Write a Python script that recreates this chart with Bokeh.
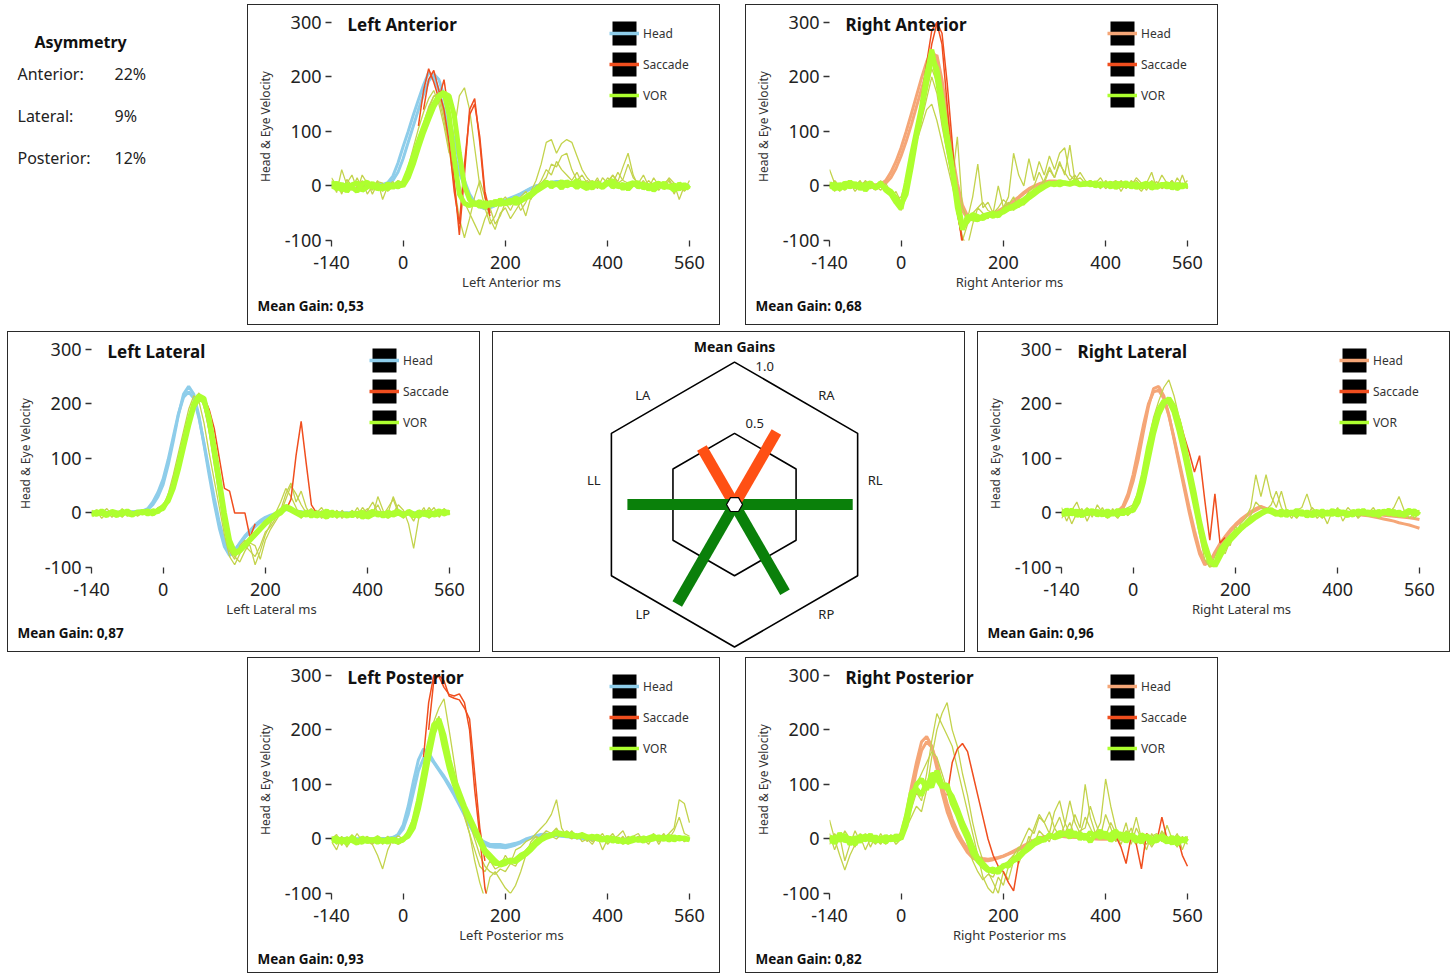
import math
from bokeh.plotting import figure
from bokeh.models import Range1d, FixedTicker, Label, Legend, LegendItem, Spacer, Title
from bokeh.layouts import row, column
from bokeh.embed import file_html
from bokeh.resources import INLINE
from bokeh.core.properties import value

# ---------------------------------------------------------------- data
T = [-140, -130, -120, -110, -100, -90, -80, -70, -60, -50,
     -40, -30, -20, -10, 0, 10, 20, 30, 40, 50,
     60, 70, 80, 90, 100, 110, 120, 130, 140, 150,
     160, 170, 180, 190, 200, 210, 220, 230, 240, 250,
     260, 270, 280, 290, 300, 310, 320, 330, 340, 350,
     360, 370, 380, 390, 400, 410, 420, 430, 440, 450,
     460, 470, 480, 490, 500, 510, 520, 530, 540, 550,
     560]

X_TICKS = [-140, 0, 200, 400, 560]
Y_TICKS = [-100, 0, 100, 200, 300]

# ---- Left Anterior
la_head1 = [2, 3, 2, 1, 3, 2, 2, 3, 2, 2,
            3, 6, 18, 42, 72, 100, 130, 158, 185, 208,
            200, 175, 140, 100, 60, 25, 0, -20, -32, -38,
            -42, -40, -36, -32, -28, -24, -20, -16, -10, -5,
            0, 3, 5, 7, 8, 8, 7, 6, 5, 5,
            4, 4, 3, 3, 3, 2, 2, 2, 2, 2,
            1, 1, 1, 1, 1, 0, 0, 0, 0, 0,
            0]
la_head2 = [1, 2, 3, 2, 2, 3, 1, 2, 3, 2,
            2, 4, 10, 25, 50, 80, 110, 140, 168, 192,
            205, 195, 165, 125, 85, 45, 10, -15, -30, -38,
            -40, -38, -35, -30, -26, -22, -18, -14, -9, -4,
            0, 2, 4, 6, 7, 7, 6, 5, 4, 4,
            3, 3, 3, 2, 2, 2, 1, 1, 1, 1,
            1, 0, 0, 0, 0, 0, 0, -1, -1, 0,
            0]
la_vor1 = [8, -6, 4, -10, 2, 6, -8, -2, 5, -6,
           0, -5, 2, -2, 5, 28, 55, 82, 108, 132,
           150, 166, 172, 130, 50, -15, -32, -36, -30, -38,
           -30, -36, -28, -34, -30, -26, -32, -28, -22, -18,
           -10, -4, 2, 6, 2, 8, 0, 5, -3, 6,
           2, -4, 5, 0, 8, -2, 4, -5, 3, 6,
           -2, 4, -6, 2, 5, -3, 0, -8, 4, -4,
           0]
la_vor2 = [-4, 6, -8, 3, -2, -10, 4, 7, -3, 2,
           -6, 4, -3, 6, 0, 15, 40, 70, 98, 122,
           145, 162, 170, 165, 130, 60, 0, -25, -35, -28,
           -40, -30, -35, -25, -33, -30, -22, -27, -20, -14,
           -6, 0, 8, -2, 5, -4, 8, 2, 10, 0,
           -5, 6, 2, -3, 5, 10, -2, 3, -6, 4,
           6, -4, 2, -8, 0, 5, -3, 2, -6, 3,
           -5]
la_thin1 = [10, -12, 30, 2, -8, 15, -5, 8, -15, 5,
            -10, 6, -4, 2, 10, 35, 70, 105, 135, 160,
            175, 150, 110, 60, 100, 165, 180, 140, 70, 0,
            -40, -70, -55, -30, -20, -35, -25, -45, -30, -10,
            10, 40, 80, 85, 60, 78, 85, 80, 55, 30,
            15, 5, 10, 0, 15, 5, 25, 10, 5, 0,
            8, -5, 10, 0, -8, 5, 12, -4, 6, -10,
            0]
la_thin2 = [-5, 8, -15, 12, 0, -10, 20, 5, -8, 10,
            -25, 0, 8, -5, 0, 20, 50, 80, 110, 140,
            165, 170, 130, 70, 0, -60, -95, -60, -20, 10,
            -20, -60, -80, -50, -40, -60, -45, -30, -55, -20,
            0, 5, 15, 40, 35, 55, 60, 30, 10, 20,
            5, 10, -5, 15, 5, 20, 8, 35, 60, 20,
            0, 10, -5, 15, 0, -5, 10, -15, 5, -8,
            10]
la_thin3 = [15, 0, -10, 5, 20, -5, 10, -15, 0, 8,
            5, -10, 0, 10, 5, 30, 60, 90, 115, 145,
            165, 160, 120, 70, 30, 0, -30, -50, -70, -90,
            -60, -40, -70, -55, -30, -45, -25, -20, -10, -25,
            -5, 10, 30, 20, 45, 30, 20, 10, 25, 5,
            10, 0, 15, -5, 8, 20, 5, 12, 40, 15,
            5, 20, 0, -10, 8, 0, 15, 5, -25, 0,
            -5]
la_sac_t1 = [30, 40, 50, 60, 70, 80, 90, 100, 110, 120, 130, 140, 150, 160, 170]
la_sac_v1 = [110, 175, 215, 190, 160, 195, 130, 10, -90, 20, 140, 160, 80, -20, -55]
la_sac_t2 = [40, 50, 60, 70, 80, 90, 100, 110, 120, 130, 140, 150, 160, 170]
la_sac_v2 = [140, 195, 212, 175, 140, 80, -10, -70, 40, 130, 150, 90, -10, -50]

# ---- Right Anterior
ra_head1 = [0, 1, 0, 2, 1, 0, 1, 2, 0, 1,
            3, 10, 25, 45, 70, 100, 132, 165, 198, 228,
            248, 235, 180, 110, 45, -10, -45, -60, -62, -60,
            -58, -55, -52, -48, -42, -36, -30, -22, -14, -7,
            -2, 3, 6, 8, 8, 7, 6, 5, 4, 3,
            3, 2, 2, 2, 1, 1, 1, 0, 0, 0,
            0, 0, -1, 0, -1, 0, 0, -1, 0, 0,
            0]
ra_head2 = [1, 0, 1, 0, 2, 1, 0, 1, 1, 2,
            1, 5, 15, 32, 55, 82, 112, 145, 178, 208,
            232, 240, 195, 130, 60, 5, -35, -55, -60, -58,
            -56, -54, -50, -46, -40, -34, -27, -20, -12, -5,
            0, 4, 7, 9, 9, 8, 6, 5, 4, 3,
            2, 2, 2, 1, 1, 1, 0, 0, 0, 0,
            0, -1, 0, 0, 0, -1, 0, 0, 0, 0,
            0]
ra_vor1 = [5, -6, 3, -4, 8, -2, 4, -8, 2, -3,
           6, -8, -15, -30, -42, 5, 55, 100, 145, 205,
           250, 200, 140, 80, 30, -40, -80, -55, -60, -62,
           -55, -52, -56, -50, -48, -42, -40, -35, -30, -22,
           -15, -8, -2, 3, 5, 2, 6, 4, 8, 3,
           5, 2, 6, 0, 4, -2, 5, 3, 0, 4,
           -3, 2, 5, -4, 0, 3, -2, 4, -5, 2,
           0]
ra_vor2 = [-3, 4, -6, 6, -2, 5, -5, 2, 6, -4,
           2, -4, -10, -22, -35, -15, 35, 90, 140, 190,
           235, 215, 160, 95, 35, -25, -75, -65, -52, -56,
           -60, -54, -50, -55, -45, -40, -36, -30, -25, -18,
           -10, -4, 0, 5, 2, 8, 5, 3, 6, 2,
           3, 6, 0, 4, 2, 5, -3, 2, 6, -2,
           4, -2, 0, 5, -3, 2, 4, -4, 3, -2,
           2]
ra_thin1 = [30, 5, -10, 8, -5, 0, 10, -8, 4, -2,
            5, 0, -20, -10, -30, 0, 40, 90, 130, 175,
            215, 190, 130, 70, 10, 90, -40, -60, -20, 40,
            -40, -30, -50, 0, -40, -20, 60, 20, 0, 50,
            10, 45, 20, 55, 30, 60, 70, 20, 10, 15,
            5, 10, 0, 8, -5, 5, 10, -10, 5, 0,
            15, 5, -8, 10, 0, 20, 5, -5, 15, 0,
            10]
ra_thin2 = [-5, 10, 0, -8, 5, -10, 2, 8, -5, 0,
            -8, 5, -12, -25, -20, 10, 45, 80, 110, 140,
            150, 120, 80, 40, 0, -40, -95, -110, -70, -40,
            -50, -60, -45, -55, -40, -30, -45, -25, -35, -20,
            -10, 0, 10, 35, 15, 40, 25, 10, 20, 5,
            0, 10, 5, -5, 10, 0, 5, 8, -5, 10,
            0, -10, 5, 0, 8, -5, 0, 10, -8, 5,
            -5]
ra_thin3 = [8, -10, 5, -3, 10, 5, -6, 10, 0, -8,
            10, -5, -15, -20, -45, -10, 30, 80, 120, 160,
            200, 170, 110, 60, 10, -50, -100, -70, -50, -40,
            -30, -45, -50, -40, -25, -35, -20, -40, -25, -10,
            0, 25, 5, 30, 15, 45, 20, 75, 10, 25,
            10, 0, 5, 15, 0, 8, -5, 10, 0, 5,
            10, 0, 5, 25, -5, 5, 0, 10, -5, 20,
            -5]
ra_sac_t1 = [40, 50, 60, 70, 80, 90, 100, 110, 120]
ra_sac_v1 = [160, 225, 285, 300, 280, 190, 80, -40, -110]
ra_sac_t2 = [40, 50, 60, 70, 80, 90, 100, 110, 120, 130]
ra_sac_v2 = [140, 200, 260, 298, 260, 150, 40, -50, -100, -120]

# ---- Left Lateral
ll_head1 = [0, 1, 0, 1, 2, 1, 0, 2, 1, 2,
            3, 6, 15, 30, 52, 88, 132, 180, 218, 232,
            218, 178, 125, 70, 18, -28, -62, -78, -70, -55,
            -42, -32, -22, -14, -8, -4, -1, 3, 7, 5,
            3, 1, 0, 0, -1, 0, 0, -1, 0, 0,
            0, 0, 0, 0, 0, 0, 0, 0, 0, 0,
            0, 0, 0, 0, 0, 0, 0, 0, 0, 0,
            0]
ll_head2 = [1, 0, 2, 1, 0, 1, 2, 1, 2, 3,
            4, 8, 20, 38, 62, 98, 140, 182, 212, 222,
            210, 175, 128, 78, 28, -18, -52, -70, -68, -56,
            -45, -35, -25, -17, -11, -6, -2, 2, 6, 6,
            4, 2, 1, 0, 0, 0, -1, 0, 0, 0,
            0, 0, 0, 0, 0, 0, 0, 0, 0, 0,
            0, 0, 0, 0, 0, 0, 0, 0, 0, 0,
            0]
ll_vor1 = [2, -3, 4, -2, 0, -5, 3, -1, -4, 2,
           0, 4, -2, 5, 8, 25, 50, 88, 128, 168,
           200, 215, 210, 170, 110, 50, -10, -60, -75, -70,
           -60, -50, -40, -30, -20, -12, -5, 0, 10, 5,
           0, -5, 2, -6, 0, -3, -8, 2, -5, -2,
           -6, 0, -4, 2, -8, -3, 0, -6, 2, -4,
           0, -5, 3, -2, -6, 0, 2, -4, -1, 3,
           0]
ll_vor2 = [-4, 2, -1, -5, 3, 0, -3, 4, -2, 0,
           3, -2, 4, 2, 12, 22, 45, 80, 120, 160,
           195, 210, 205, 175, 120, 60, 0, -50, -72, -68,
           -58, -48, -38, -28, -18, -10, -2, 4, 12, 8,
           2, 0, -4, 3, -6, -2, 4, -5, -1, -3,
           -2, -5, 0, -8, -2, 3, -4, -1, -6, 0,
           3, -3, 0, -6, 2, -2, -5, 0, 4, -2,
           2]
ll_thin1 = [5, -5, 0, 8, -3, 2, -8, 4, 0, -4,
            6, -2, 0, 10, 15, 30, 60, 100, 140, 175,
            205, 220, 200, 150, 90, 30, -30, -70, -85, -60,
            -50, -60, -95, -70, -40, -20, 0, 20, 45, 30,
            10, -10, 5, -5, 0, 10, -5, 5, -8, 0,
            -5, 5, -10, 0, 8, -5, 30, 5, -10, 0,
            15, 5, -20, -65, -10, 5, 0, 10, -8, 5,
            0]
ll_thin2 = [-6, 4, -10, 0, 5, -5, 8, -2, 3, -6,
            0, 5, -5, 8, 12, 35, 70, 110, 150, 190,
            215, 205, 165, 110, 60, 10, -40, -80, -95, -75,
            -60, -70, -80, -60, -35, -25, -10, 5, 35, 55,
            20, 40, 10, -5, 5, -10, 0, -5, 5, -10,
            0, -5, 10, -8, 5, 20, 0, -5, 10, 25,
            0, -10, 5, 0, -5, 10, -10, 0, 5, -5,
            5]
ll_thin3 = [0, 6, -4, 3, -8, 2, 5, -6, 0, 4,
            -3, 0, 6, 2, 10, 28, 58, 95, 135, 170,
            200, 218, 195, 150, 95, 40, -20, -65, -80, -90,
            -70, -55, -60, -85, -50, -30, -15, 0, 25, 50,
            35, 15, 0, 8, -6, 4, -4, 2, -10, 5,
            -8, 3, -5, 10, -2, 0, 15, -5, 0, 30,
            5, -8, 0, -15, 5, -6, 10, -2, 0, 8,
            -4]
ll_sac_t1 = [80, 90, 100, 110, 120, 130, 140, 150, 160, 170, 180]
ll_sac_v1 = [212, 190, 155, 100, 45, 40, 0, 0, 0, -45, -20]
ll_sac_t2 = [240, 250, 260, 270, 280, 290, 300]
ll_sac_v2 = [5, 25, 105, 168, 90, 15, 0]

# ---- Right Lateral
rl_head1 = [0, 1, 0, 2, 1, 0, 1, 0, 2, 1,
            0, 2, 8, 28, 58, 98, 148, 195, 228, 232,
            215, 180, 135, 90, 45, 0, -40, -75, -95, -90,
            -72, -56, -43, -31, -21, -12, -5, 2, 8, 12,
            8, 4, 2, 1, 0, 0, 0, -1, 0, 0,
            0, 0, -1, 0, 0, -1, -2, -2, -3, -4,
            -5, -7, -9, -11, -13, -15, -18, -20, -22, -25,
            -28]
rl_head2 = [1, 0, 2, 1, 0, 1, 2, 1, 0, 2,
            1, 3, 12, 35, 70, 115, 160, 200, 222, 225,
            210, 178, 138, 95, 52, 8, -32, -68, -90, -88,
            -75, -60, -46, -34, -24, -15, -7, 0, 5, 10,
            8, 5, 3, 1, 0, 0, 0, 0, 0, 0,
            0, 0, 0, 0, 0, 0, 0, 0, 0, -1,
            -1, -2, -3, -4, -5, -6, -7, -8, -9, -10,
            -12]
rl_vor1 = [4, -3, 6, -5, 2, -2, 5, -4, 3, -6,
           2, -4, 5, 0, 8, 30, 70, 120, 160, 190,
           205, 205, 185, 150, 110, 65, 20, -25, -65, -90,
           -95, -70, -55, -45, -35, -28, -20, -12, -5, 0,
           5, 2, -3, 4, -5, 2, -4, 3, -6, 0,
           3, -5, 2, -3, 4, 0, -5, 3, -2, 5,
           -3, 2, -5, 4, -2, 3, -4, 0, 5, -3,
           2]
rl_vor2 = [-5, 6, -2, 4, -6, 5, -1, 3, -4, 4,
           -3, 5, -2, 6, 4, 20, 55, 100, 145, 180,
           200, 210, 195, 165, 125, 80, 35, -15, -55, -85,
           -98, -80, -62, -50, -40, -30, -22, -15, -8, -2,
           3, 6, 0, -4, 3, -2, 5, -3, 2, -5,
           -2, 4, -3, 5, -4, 2, 0, -4, 4, -1,
           2, -4, 3, -1, 5, -3, 2, -5, 1, 4,
           -3]
rl_thin1 = [10, -15, 5, 20, -5, 10, -8, 15, 0, -10,
            8, -5, 5, 10, 15, 40, 80, 130, 175, 205,
            230, 244, 215, 175, 130, 80, 30, -20, -70, -100,
            -80, -60, -75, -50, -40, -20, -10, 10, 70, 30,
            70, 30, 10, 40, 5, -10, 5, 10, 35, 5,
            -10, 0, -20, 5, 0, -5, 10, 0, -8, 5,
            0, 10, -5, 5, 0, 10, 30, 5, -10, 0,
            5]
rl_thin2 = [-10, 5, -20, 0, 8, -15, 5, -5, 10, -8,
            0, -10, 5, -5, 10, 25, 60, 105, 150, 185,
            205, 200, 180, 150, 110, 60, 10, -40, -85, -100,
            -95, -70, -50, -60, -25, -35, -15, -5, 20, 10,
            5, 15, 40, 10, -5, 0, -10, 5, -5, 10,
            0, -10, 5, -5, 10, -15, 0, 5, -10, 0,
            -5, 5, -10, 0, 8, -5, 0, -8, 5, -10,
            0]
rl_sac_t1 = [90, 100, 110, 120, 130, 140, 150, 160, 170, 180]
rl_sac_v1 = [175, 140, 110, 75, 105, 25, -50, 35, -55, -45]

# ---- Left Posterior
lp_head1 = [0, 1, 0, 0, 1, 0, 1, 0, 0, 1,
            0, 1, 2, 8, 25, 60, 105, 145, 165, 158,
            142, 128, 115, 100, 85, 68, 50, 30, 12, 0,
            -6, -10, -10, -10, -12, -10, -8, -5, 0, 3,
            6, 8, 9, 8, 7, 6, 5, 4, 3, 2,
            1, 0, 0, -1, -2, -2, -2, -1, 0, 0,
            1, 2, 2, 2, 1, 1, 0, 0, 0, 0,
            0]
lp_head2 = [1, 0, 1, 1, 0, 0, 1, 1, 0, 0,
            1, 1, 3, 6, 18, 45, 85, 125, 148, 152,
            140, 126, 112, 96, 80, 62, 44, 25, 8, -4,
            -10, -14, -15, -15, -16, -14, -11, -7, -2, 2,
            5, 7, 8, 7, 6, 5, 4, 3, 2, 1,
            0, -1, -1, -2, -3, -3, -2, -1, 0, 1,
            1, 2, 2, 1, 1, 0, 0, 0, -1, 0,
            0]
lp_vor1 = [-4, 2, -6, 0, -3, -8, 2, -5, -1, -6,
           -2, -6, 0, -4, -2, 10, 30, 70, 120, 170,
           210, 215, 170, 130, 100, 75, 55, 35, 15, -5,
           -25, -35, -45, -45, -40, -42, -38, -30, -25, -15,
           -5, 0, 5, 8, 10, 8, 10, 6, 5, 8,
           4, 2, 5, 0, -3, 2, -5, -2, -6, -3,
           0, -4, 2, 5, 0, 3, -2, 4, 0, 2,
           -2]
lp_vor2 = [2, -5, 0, -8, 3, -4, -6, 0, -3, 2,
           -5, 0, -3, -6, 0, 5, 20, 55, 100, 150,
           195, 220, 190, 145, 110, 85, 60, 40, 20, 0,
           -20, -30, -40, -48, -45, -38, -42, -35, -28, -20,
           -10, -2, 3, 6, 12, 10, 6, 9, 4, 6,
           2, 5, 0, -2, 3, -4, 0, -6, -2, 2,
           -3, 2, -2, 0, 4, -1, 5, -2, 3, 0,
           0]
lp_thin1 = [-5, -20, 5, -15, 0, -10, 5, -5, -10, -30,
            -55, -20, 0, -10, -5, 15, 40, 80, 130, 180,
            215, 240, 257, 200, 140, 80, 40, 10, -20, -50,
            -60, -40, -55, -50, -30, -45, -20, -15, -5, 0,
            10, 20, 30, 45, 72, 20, 5, 0, 10, -5,
            0, -10, 5, -20, 0, 10, -5, 5, -10, 0,
            5, 0, -10, 5, 0, 10, -5, 0, 5, -5,
            0]
lp_thin2 = [5, -10, 0, -5, 8, -8, 0, 5, -10, 0,
            -5, 5, -8, 0, -5, 10, 35, 75, 125, 175,
            205, 225, 190, 150, 110, 75, 45, 10, -40, -80,
            -110, -70, -60, -75, -90, -100, -85, -60, -30, -5,
            5, 0, 10, 5, 0, 10, 5, 15, 0, 10,
            5, -5, 0, 10, -5, 5, 0, -10, 5, 0,
            -5, 5, 0, 10, -5, 0, 10, 20, 72, 65,
            30]
lp_thin3 = [0, 8, -12, 4, -6, 10, -4, 2, -8, 6,
            -10, 2, -4, 6, 0, 8, 30, 65, 110, 160,
            200, 210, 175, 140, 105, 80, 55, 30, 0, -30,
            -50, -60, -65, -55, -60, -45, -50, -30, -20, -10,
            0, 5, 15, 10, 20, 5, 15, 8, 0, 12,
            -5, 8, 0, 5, -10, 0, 6, 15, -5, 5,
            10, -5, 0, 8, -10, 5, 0, 15, 40, 10,
            5]
lp_sac_t1 = [40, 50, 60, 70, 80, 90, 100, 110, 120, 130, 140, 150, 160, 170]
lp_sac_v1 = [150, 250, 300, 298, 278, 265, 262, 266, 250, 200, 90, 5, -90, -130]
lp_sac_t2 = [50, 60, 70, 80, 90, 100, 110, 120, 130, 140, 150, 160]
lp_sac_v2 = [200, 290, 300, 290, 262, 258, 255, 240, 220, 120, 20, -40]

# ---- Right Posterior
rp_head1 = [0, 1, 0, 1, 0, 2, 1, 0, 1, 0,
            1, 0, 1, 2, 10, 45, 95, 140, 178, 188,
            170, 130, 85, 50, 25, 5, -10, -25, -35, -40,
            -40, -40, -38, -35, -32, -28, -24, -20, -15, -10,
            -5, 0, 3, 5, 6, 6, 5, 4, 3, 2,
            2, 1, 1, 0, 0, 0, 0, 0, 0, 0,
            0, 0, 0, 0, 0, 0, 0, 0, 0, 0,
            0]
rp_head2 = [1, 0, 1, 0, 1, 1, 0, 1, 0, 1,
            0, 1, 0, 1, 5, 32, 78, 125, 162, 178,
            168, 140, 100, 65, 36, 14, -4, -18, -28, -34,
            -36, -37, -36, -34, -31, -27, -22, -17, -12, -7,
            -2, 2, 4, 6, 6, 5, 4, 3, 3, 2,
            1, 1, 0, 0, 0, 0, 0, 0, 0, 0,
            0, 0, 0, 0, 0, 0, 0, 0, 0, 0,
            0]
rp_vor1 = [5, -8, 10, -4, 2, -10, 6, -2, 8, -5,
           3, -6, 4, -3, 5, 40, 85, 92, 80, 105,
           95, 125, 100, 92, 78, 55, 30, 10, -15, -35,
           -45, -55, -60, -55, -50, -45, -40, -35, -25, -18,
           -10, -5, 0, 5, 5, 12, 8, 15, 5, 10,
           0, 12, 5, 15, 2, 8, 15, 0, 10, 5,
           -5, 8, 2, -8, 5, 0, -6, 4, -10, 0,
           -5]
rp_vor2 = [-6, 4, -3, 8, -10, 3, -5, 6, -2, 4,
           -4, 5, -2, 6, 0, 25, 70, 100, 110, 90,
           120, 110, 95, 100, 65, 45, 20, 0, -25, -40,
           -50, -58, -55, -62, -48, -50, -38, -30, -22, -12,
           -6, 2, -3, 8, 2, 5, 10, 3, 12, 0,
           8, -5, 10, 2, 12, -3, 5, 10, -5, 8,
           2, -6, 6, 0, -4, 6, 0, -8, 3, -4,
           2]
rp_thin1 = [35, 0, -30, -57, -30, -10, 5, -20, 0, -10,
            10, -5, 5, -10, 0, 20, 40, 60, 50, 90,
            150, 200, 230, 250, 200, 170, 120, 80, 30, -10,
            -40, -60, -80, -100, -60, -75, -40, -20, 0, 20,
            10, 40, 30, 10, 50, 70, 30, 10, 45, 20,
            100, 40, 10, 30, 110, 60, 20, 0, 30, -10,
            20, 0, -20, 10, -5, 15, 0, -10, 5, -5,
            0]
rp_thin2 = [-10, 10, -5, 15, 0, -15, 10, -5, 5, 0,
            -10, 5, -5, 0, 5, 30, 55, 85, 70, 120,
            180, 230, 210, 190, 170, 130, 90, 50, 10, -30,
            -70, -90, -100, -70, -85, -50, -30, -45, -20, -5,
            20, 45, 30, 50, 20, 5, 25, 70, 30, 10,
            40, 20, 0, 15, 5, 30, 10, -10, 15, 5,
            40, 0, -10, 5, 10, -5, 25, 0, -15, 5,
            -10]
rp_thin3 = [10, -20, 5, -40, -10, 15, -5, 10, -15, 5,
            0, -10, 8, -5, 10, 35, 70, 100, 120, 140,
            160, 150, 120, 90, 60, 40, 20, -10, -40, -60,
            -75, -65, -70, -50, -55, -40, -30, -15, -25, 5,
            -10, 15, 5, -5, 20, 40, 10, 30, 5, 15,
            20, 60, 30, 5, 45, 20, -5, 10, 0, 20,
            -10, 10, 5, -15, 0, 10, 5, -5, 10, -20,
            5]
rp_sac_t1 = [90, 100, 110, 120, 130, 140, 150, 160, 170, 180, 190, 200, 210, 220, 230]
rp_sac_v1 = [80, 140, 165, 175, 160, 120, 80, 40, 0, -30, -50, -60, -80, -95, -40]
rp_sac_t2 = [420, 430, 440, 450, 460, 470, 480, 490, 500, 510, 520, 530, 540, 550, 560]
rp_sac_v2 = [5, -15, -45, 5, -10, -55, 10, 0, -5, 40, 0, -10, 5, -30, -50]

# ---- Mean gains (hexagon diagram)
GAIN_LABELS = ["RL", "RA", "LA", "LL", "LP", "RP"]
GAIN_VALUES = [0.96, 0.68, 0.53, 0.87, 0.93, 0.82]
GRID_LEVELS = [1.0, 0.5]
GRID_LEVEL_TEXT = ["1.0", "0.5"]

# ---- Asymmetry
ASYM_NAMES = ["Anterior:", "Lateral:", "Posterior:"]
ASYM_VALUES = ["22%", "9%", "12%"]

# ---------------------------------------------------------------- style
FONT = "Noto Sans"
HEAD_L = "#8ECDEA"
HEAD_R = "#F5A677"
SACC = "#F04E1E"
VOR_MAIN = "#ADFF2F"
VOR_THIN = "#C3D34C"
BAR_LOW = "#FF5014"
BAR_OK = "#0A800A"
TXT = "#222222"
BOX_STYLE = {"border": "1px solid #2a2a2a"}
NAN = float("nan")

PW, PH, PH_LAST = 473, 321, 316          # outer box sizes (border included)
F_LEFT, F_W, F_TOP, F_H = 83, 358, 7, 226
X_END = 564
Y_TOP = 318


def make_panel(spec, height):
    cw, ch = PW - 2, height - 2
    p = figure(width=PW, height=height,
               x_range=Range1d(X_TICKS[0], X_END), y_range=Range1d(Y_TICKS[0], Y_TOP),
               output_backend="svg", toolbar_location=None,
               min_border_left=F_LEFT, min_border_right=cw - F_LEFT - F_W, min_border_top=F_TOP,
               min_border_bottom=ch - F_TOP - F_H,
               outline_line_color=None, background_fill_color="white",
               border_fill_color="white", styles=BOX_STYLE)
    p.grid.visible = False

    for h in spec["head"]:
        p.line(T, h, line_color=spec["head_color"], line_width=3)
    for v in spec["thin"]:
        p.line(T, v, line_color=VOR_THIN, line_width=1.3)
    for ts, vs in spec["sac"]:
        p.line(ts, vs, line_color=SACC, line_width=1.5)
    for v in spec["vor"]:
        p.line(T, v, line_color=VOR_MAIN, line_width=5)

    for ax, ticks in ((p.xaxis[0], X_TICKS), (p.yaxis[0], Y_TICKS)):
        ax.ticker = FixedTicker(ticks=ticks)
        ax.major_label_overrides = {t: str(t) for t in ticks}
        ax.axis_line_color = None
        ax.major_tick_in = 0
        ax.major_tick_out = 6
        ax.minor_tick_out = 0
        ax.minor_tick_in = 0
        ax.major_tick_line_color = "#333333"
        ax.major_tick_line_width = 1.3
        ax.major_label_text_font = FONT
        ax.major_label_text_font_size = "18px"
        ax.major_label_text_color = TXT
        ax.axis_label_text_font = FONT
        ax.axis_label_text_font_style = "normal"
        ax.axis_label_text_color = "#333333"
    p.xaxis.major_label_standoff = 9
    p.yaxis.major_label_standoff = 4
    p.xaxis.axis_label = spec["xlabel"]
    p.xaxis.axis_label_text_font_size = "13px"
    p.xaxis.axis_label_standoff = 1
    p.yaxis.axis_label = "Head & Eye Velocity"
    p.yaxis.axis_label_text_font_size = "12px"
    p.yaxis.axis_label_standoff = 8

    title_y = (Y_TICKS[-1] - Y_TICKS[0]) * F_H / (Y_TOP - Y_TICKS[0])
    p.add_layout(Label(x=16, y=title_y, x_units="screen", y_units="screen", text=spec["title"],
                       text_font=FONT, text_font_style="bold", text_font_size="17px",
                       text_color="#111111", text_baseline="middle"))
    p.add_layout(Title(text="Mean Gain: " + spec["gain"], align="left", offset=9 - F_LEFT,
                       text_font=FONT, text_font_style="bold", text_font_size="13.5px",
                       text_color="#111111", standoff=3), "below")

    items = []
    for name, col in (("Head", spec["head_color"]), ("Saccade", SACC), ("VOR", VOR_MAIN)):
        bg = p.quad(left=[NAN], right=[NAN], top=[NAN], bottom=[NAN],
                    fill_color="black", line_color=None)
        ln = p.line([NAN], [NAN], line_color=col, line_width=3.5)
        items.append(LegendItem(label=name, renderers=[bg, ln]))
    leg = Legend(items=items, location=(278, 130), glyph_width=30, glyph_height=30,
                 spacing=1, padding=0, margin=0, border_line_color=None,
                 background_fill_alpha=0, label_text_font=FONT, label_text_font_size="12px",
                 label_text_color="#333333", label_standoff=4)
    p.add_layout(leg)
    return column(p)


def make_radar():
    s = 122.6
    cw, ch = PW - 2, PH - 2
    cx, cy = 240, 171
    r = figure(width=PW, height=PH,
               x_range=Range1d(-cx / s, (cw - cx) / s), y_range=Range1d(-(ch - cy) / s, cy / s),
               output_backend="svg", toolbar_location=None, min_border=0,
               x_axis_location=None, y_axis_location=None,
               outline_line_color=None, styles=BOX_STYLE)
    r.grid.visible = False
    c30 = math.cos(math.radians(30))
    for lev in GRID_LEVELS:
        R = lev / c30
        xs = [R * math.cos(math.radians(90 + 60 * k)) for k in range(6)]
        ys = [R * math.sin(math.radians(90 + 60 * k)) for k in range(6)]
        r.patch(xs, ys, fill_alpha=0, line_color="black", line_width=1.6)
    angles = [math.radians(60 * i) for i in range(len(GAIN_LABELS))]
    x1 = [g * math.cos(a) for g, a in zip(GAIN_VALUES, angles)]
    y1 = [g * math.sin(a) for g, a in zip(GAIN_VALUES, angles)]
    cols = [BAR_LOW if g < 0.7 else BAR_OK for g in GAIN_VALUES]
    r.segment(x0=[0] * len(x1), y0=[0] * len(y1), x1=x1, y1=y1, line_color=cols,
              line_width=11, line_cap="butt")
    r.scatter([0], [0], marker="hex", size=16, fill_color="white", line_color="black",
              line_width=1.2)
    shift = [10, -10, 10, -10, -10, 10]
    lr = 1.16
    lx = [lr * math.cos(a + math.radians(d)) for a, d in zip(angles, shift)]
    ly = [lr * math.sin(a + math.radians(d)) for a, d in zip(angles, shift)]
    r.text(x=lx, y=ly, text=GAIN_LABELS, text_font=value(FONT), text_font_size="13px",
           text_color=TXT, text_align="center", text_baseline="middle")
    offs = [(21, 4), (11, -10)]
    for lev, txt, (dx, dy) in zip(GRID_LEVELS, GRID_LEVEL_TEXT, offs):
        r.text(x=[0], y=[lev / c30], text=[txt], x_offset=dx, y_offset=dy,
               text_font=value(FONT), text_font_size="13px", text_color=TXT,
               text_align="left", text_baseline="middle")
    r.add_layout(Label(x=241, y=ch - 12, x_units="screen", y_units="screen",
                       text="Mean Gains", text_font=FONT, text_font_style="bold",
                       text_font_size="14px", text_color="#111111",
                       text_align="center", text_baseline="middle"))
    return column(r)


def make_asym():
    w, H = 227, PH
    a = figure(width=w, height=H, x_range=Range1d(0, 1), y_range=Range1d(0, 1),
               output_backend="svg", toolbar_location=None, min_border=0,
               x_axis_location=None, y_axis_location=None, outline_line_color=None)
    a.grid.visible = False
    a.add_layout(Label(x=27, y=H - 37, x_units="screen", y_units="screen", text="Asymmetry",
                       text_font=FONT, text_font_style="bold", text_font_size="16px",
                       text_color="#111111", text_baseline="middle"))
    for i, (nm, vv) in enumerate(zip(ASYM_NAMES, ASYM_VALUES)):
        yy = H - 69 - 42 * i
        a.add_layout(Label(x=10, y=yy, x_units="screen", y_units="screen", text=nm,
                           text_font=FONT, text_font_size="16px", text_color=TXT,
                           text_baseline="middle"))
        a.add_layout(Label(x=107, y=yy, x_units="screen", y_units="screen", text=vv,
                           text_font=FONT, text_font_size="16px", text_color=TXT,
                           text_baseline="middle"))
    return column(a)


def sp(w, h):
    return Spacer(width=w, height=h)


PANELS = {
    "LA": dict(title="Left Anterior", xlabel="Left Anterior ms", gain="0,53", head_color=HEAD_L,
               head=[la_head1, la_head2], vor=[la_vor1, la_vor2], thin=[la_thin1, la_thin2, la_thin3],
               sac=[(la_sac_t1, la_sac_v1), (la_sac_t2, la_sac_v2)]),
    "RA": dict(title="Right Anterior", xlabel="Right Anterior ms", gain="0,68", head_color=HEAD_R,
               head=[ra_head1, ra_head2], vor=[ra_vor1, ra_vor2], thin=[ra_thin1, ra_thin2, ra_thin3],
               sac=[(ra_sac_t1, ra_sac_v1), (ra_sac_t2, ra_sac_v2)]),
    "LL": dict(title="Left Lateral", xlabel="Left Lateral ms", gain="0,87", head_color=HEAD_L,
               head=[ll_head1, ll_head2], vor=[ll_vor1, ll_vor2], thin=[ll_thin1, ll_thin2, ll_thin3],
               sac=[(ll_sac_t1, ll_sac_v1), (ll_sac_t2, ll_sac_v2)]),
    "RL": dict(title="Right Lateral", xlabel="Right Lateral ms", gain="0,96", head_color=HEAD_R,
               head=[rl_head1, rl_head2], vor=[rl_vor1, rl_vor2], thin=[rl_thin1, rl_thin2],
               sac=[(rl_sac_t1, rl_sac_v1)]),
    "LP": dict(title="Left Posterior", xlabel="Left Posterior ms", gain="0,93", head_color=HEAD_L,
               head=[lp_head1, lp_head2], vor=[lp_vor1, lp_vor2], thin=[lp_thin1, lp_thin2, lp_thin3],
               sac=[(lp_sac_t1, lp_sac_v1), (lp_sac_t2, lp_sac_v2)]),
    "RP": dict(title="Right Posterior", xlabel="Right Posterior ms", gain="0,82", head_color=HEAD_R,
               head=[rp_head1, rp_head2], vor=[rp_vor1, rp_vor2], thin=[rp_thin1, rp_thin2, rp_thin3],
               sac=[(rp_sac_t1, rp_sac_v1), (rp_sac_t2, rp_sac_v2)]),
}

top = row(sp(7, 10), make_asym(), sp(13, 10), make_panel(PANELS["LA"], PH), sp(25, 10),
          make_panel(PANELS["RA"], PH))
mid = row(sp(7, 10), make_panel(PANELS["LL"], PH), sp(12, 10), make_radar(), sp(12, 10),
          make_panel(PANELS["RL"], PH))
bot = row(sp(247, 10), make_panel(PANELS["LP"], PH_LAST), sp(25, 10),
          make_panel(PANELS["RP"], PH_LAST))
page = column(sp(10, 4), top, sp(10, 6), mid, sp(10, 5), bot)

open("out.html", "w").write(file_html(page, INLINE, "Vestibular test"))
